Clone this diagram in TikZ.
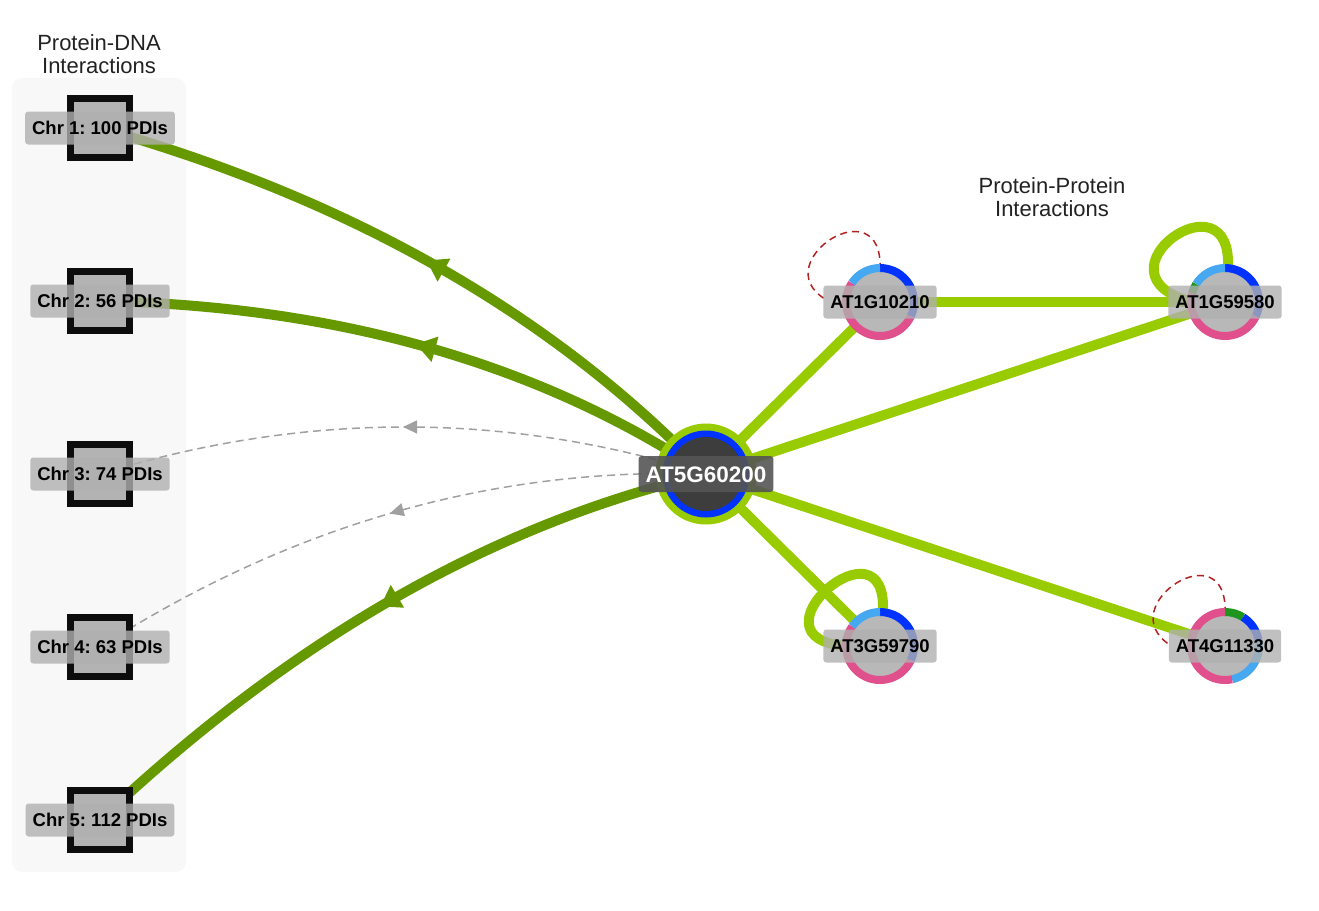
\documentclass[tikz,border=0pt]{standalone}
\usepackage{fontspec}
\setmainfont{Liberation Sans}
\frenchspacing
\usetikzlibrary{arrows.meta,decorations.markings,calc}
\definecolor{dkgreen}{HTML}{669900}
\definecolor{ltgreen}{HTML}{99CC00}
\definecolor{ringblue}{HTML}{0033FF}
\definecolor{ltblue}{HTML}{45A8F0}
\definecolor{pinkc}{HTML}{E0508C}
\definecolor{segreen}{HTML}{1E961E}
\definecolor{nodegray}{HTML}{B8B8B8}
\definecolor{sqgray}{HTML}{B3B3B3}
\definecolor{lblgray}{HTML}{B0B0B0}
\definecolor{panelgray}{HTML}{F8F8F8}
\definecolor{dashgray}{HTML}{A0A0A0}
\definecolor{loopred}{HTML}{B22222}
\definecolor{darkfill}{HTML}{3D3D3D}
\definecolor{darklbl}{HTML}{555555}
\definecolor{titlec}{HTML}{222222}
\pgfdeclarelayer{back}\pgfdeclarelayer{edges}\pgfsetlayers{back,edges,main}
\newcommand\ringseg[4]{\draw[line width=8pt,#4] ($(#1.center)+(#2:34pt)$) arc[start angle=#2,end angle=#3,radius=34pt];}
\begin{document}
\begin{tikzpicture}[x=1pt,y=-1pt,
 chrsq/.style={draw=black!95,line width=7pt,fill=sqgray,minimum size=59pt,inner sep=0pt},
 lbl/.style={fill=lblgray,fill opacity=0.8,text opacity=1,text=black,rounded corners=3pt,inner xsep=7pt,inner ysep=0pt,minimum height=33pt,text height=13.5pt,text depth=0pt,font=\bfseries\fontsize{18.5}{20}\selectfont},
 clbl/.style={fill=darklbl,fill opacity=0.9,text opacity=1,text=white,rounded corners=3pt,inner xsep=7pt,inner ysep=0pt,minimum height=36pt,text height=16pt,text depth=0pt,font=\bfseries\fontsize{22.5}{24}\selectfont},
 pcirc/.style={circle,fill=nodegray,minimum size=64pt,inner sep=0pt},
 pdi/.style={draw=dkgreen,line width=10pt,postaction={decorate,decoration={markings,mark=at position 0.5 with {\arrow{Triangle[length=20pt,width=25pt]}}}}},
 pdidash/.style={draw=dashgray,line width=1.5pt,dash pattern=on 8pt off 5pt,postaction={decorate,decoration={markings,mark=at position 0.5 with {\arrow{Triangle[length=14pt,width=13pt]}}}}},
 ppi/.style={draw=ltgreen,line width=10pt},
 redloop/.style={draw=loopred,line width=1.5pt,dash pattern=on 7pt off 5pt},
 title/.style={align=center,text=titlec,font=\fontsize{22}{23}\selectfont}]
\path[use as bounding box] (0,0) rectangle (1319,910);
\begin{pgfonlayer}{back}
\fill[panelgray,rounded corners=10pt] (12,78) rectangle (186,872);
\end{pgfonlayer}
% titles
\node[title] (t1) at (99,54) {Protein-DNA\\Interactions};
\node[title] (t2) at (1052,197) {Protein-Protein\\Interactions};
% chromosome nodes
\node[chrsq] (chr1) at (100,128) {};
\node[chrsq] (chr2) at (100,301) {};
\node[chrsq] (chr3) at (100,474) {};
\node[chrsq] (chr4) at (100,647) {};
\node[chrsq] (chr5) at (100,820) {};
\node[lbl] (chr1l) at (chr1) {Chr 1: 100 PDIs};
\node[lbl] (chr2l) at (chr2) {Chr 2: 56 PDIs};
\node[lbl] (chr3l) at (chr3) {Chr 3: 74 PDIs};
\node[lbl] (chr4l) at (chr4) {Chr 4: 63 PDIs};
\node[lbl] (chr5l) at (chr5) {Chr 5: 112 PDIs};
% protein nodes
\node[pcirc] (a1) at (880,302) {};
\node[pcirc] (a2) at (1225,302) {};
\node[pcirc] (a3) at (880,646) {};
\node[pcirc] (a4) at (1225,646) {};
\ringseg{a1}{90}{-25}{ringblue}
\ringseg{a1}{-25}{-214}{pinkc}
\ringseg{a1}{146}{90}{ltblue}
\ringseg{a2}{90}{-25}{ringblue}
\ringseg{a2}{-25}{-195}{pinkc}
\ringseg{a2}{165}{148}{segreen}
\ringseg{a2}{148}{90}{ltblue}
\ringseg{a3}{90}{-25}{ringblue}
\ringseg{a3}{-25}{-215}{pinkc}
\ringseg{a3}{145}{90}{ltblue}
\ringseg{a4}{90}{58}{segreen}
\ringseg{a4}{58}{10}{ringblue}
\ringseg{a4}{10}{-78}{ltblue}
\ringseg{a4}{-78}{-270}{pinkc}
\node[lbl] (a1l) at (a1) {AT1G10210};
\node[lbl] (a2l) at (a2) {AT1G59580};
\node[lbl] (a3l) at (a3) {AT3G59790};
\node[lbl] (a4l) at (a4) {AT4G11330};
% centre node
\node[circle,fill=ltgreen,minimum size=101pt,inner sep=0pt] (c) at (706,474) {};
\fill[ringblue] (c.center) circle[radius=43.5pt];
\fill[darkfill] (c.center) circle[radius=37pt];
\node[clbl] (cl) at (c) {AT5G60200};
% edges
\begin{pgfonlayer}{edges}
\draw[pdi] (c.center) .. controls (553.3,314.7) and (351.3,199.3) .. (chr1.center);
\draw[pdi] (c.center) .. controls (540,363.7) and (338,306) .. (chr2.center);
\draw[pdidash] (c.center) .. controls (506.7,411.3) and (304.7,411.3) .. (chr3.center);
\draw[pdidash] (c.center) .. controls (493.3,467) and (291.3,524.7) .. (chr4.center);
\draw[pdi] (c.center) .. controls (493.3,523.7) and (291.3,639.3) .. (chr5.center);
\draw[ppi] (c.center) -- (a1.center);
\draw[ppi] (c.center) -- (a2.center);
\draw[ppi] (c.center) -- (a3.center);
\draw[ppi] (c.center) -- (a4.center);
\draw[ppi] (a1.center) -- (a2.center);
\draw[ppi] (a2.85) .. controls (1235,168) and (1085,275) .. (a2.180);
\draw[ppi] (a3.85) .. controls (890,510) and (740,640) .. (a3.180);
\draw[redloop] (a1.90) .. controls (884,185) and (765,262) .. ($(a1.center)+(-55pt,3pt)$);
\draw[redloop] (a4.90) .. controls (1229,529) and (1110,606) .. ($(a4.center)+(-55pt,1pt)$);
\end{pgfonlayer}
\end{tikzpicture}
\end{document}
